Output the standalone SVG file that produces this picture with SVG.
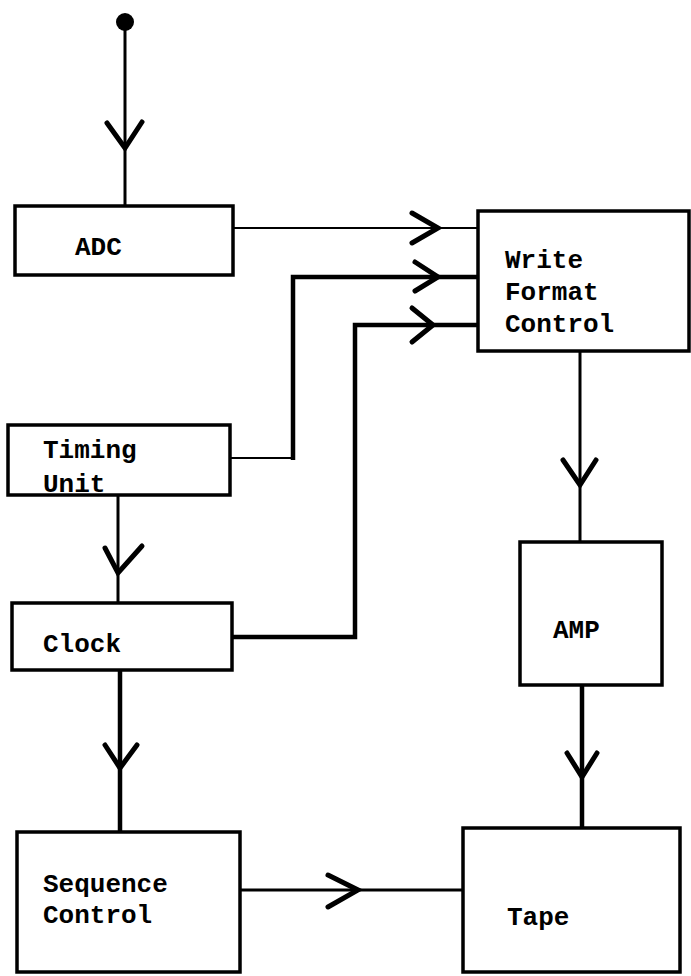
<svg xmlns="http://www.w3.org/2000/svg" width="691" height="976" viewBox="0 0 691 976">
<style>
.box{fill:#fff;stroke:#000;stroke-width:3.5}
.lbl{font-family:"Liberation Mono","DejaVu Sans Mono",monospace;font-weight:bold;font-size:26px;fill:#000}
.ln{fill:none;stroke:#000;stroke-width:3;stroke-linejoin:miter}
.thin{fill:none;stroke:#000;stroke-width:2}
.thick{fill:none;stroke:#000;stroke-width:4.5}
.arr{fill:none;stroke:#000;stroke-width:5;stroke-linecap:round;stroke-linejoin:miter}
</style>
<rect width="691" height="976" fill="#fff"/>
<g id="connectors">
<circle cx="125" cy="22" r="9" fill="#000"/>
<line class="ln" x1="125" y1="22" x2="125" y2="206"/>
<polyline class="arr" points="107,123 125,148 142,122"/>
<line class="thin" x1="233" y1="228" x2="478" y2="228"/>
<polyline class="arr" points="412,213 438,228 412,243"/>
<polyline class="thin" points="230,458 293,458"/>
<polyline class="thick" points="293,460 293,277 478,277"/>
<polyline class="arr" points="415,262 438,277 415,291"/>
<polyline class="thick" points="232,637 355,637 355,325 478,325"/>
<polyline class="arr" points="412,308 433,325 412,342"/>
<line class="ln" x1="580" y1="351" x2="580" y2="542"/>
<polyline class="arr" points="563,460 580,485 596,460"/>
<line class="ln" x1="118" y1="495" x2="118" y2="603"/>
<polyline class="arr" points="105,548 118,573 142,546"/>
<line class="thick" x1="120" y1="670" x2="120" y2="832"/>
<polyline class="arr" points="105,745 120,768 137,745"/>
<line class="thick" x1="582" y1="685" x2="582" y2="828"/>
<polyline class="arr" points="567,753 582,777 597,753"/>
<line class="ln" x1="240" y1="890" x2="463" y2="890"/>
<polyline class="arr" points="328,875 358,890 328,907"/>
</g>
<g id="adc">
<rect class="box" x="15" y="206" width="218" height="69"/>
<text class="lbl" x="75" y="255">ADC</text>
</g>
<g id="wfc">
<rect class="box" x="478" y="211" width="211" height="140"/>
<text class="lbl" x="505" y="268">Write</text>
<text class="lbl" x="505" y="300">Format</text>
<text class="lbl" x="505" y="332">Control</text>
</g>
<g id="timing">
<rect class="box" x="8" y="425" width="222" height="70"/>
<text class="lbl" x="43" y="458">Timing</text>
<text class="lbl" x="43" y="492">Unit</text>
</g>
<g id="clock">
<rect class="box" x="12" y="603" width="220" height="67"/>
<text class="lbl" x="43" y="652">Clock</text>
</g>
<g id="amp">
<rect class="box" x="520" y="542" width="142" height="143"/>
<text class="lbl" x="553" y="638">AMP</text>
</g>
<g id="sequence">
<rect class="box" x="17" y="832" width="223" height="140"/>
<text class="lbl" x="43" y="892">Sequence</text>
<text class="lbl" x="43" y="923">Control</text>
</g>
<g id="tape">
<rect class="box" x="463" y="828" width="217" height="144"/>
<text class="lbl" x="507" y="925">Tape</text>
</g>
</svg>
